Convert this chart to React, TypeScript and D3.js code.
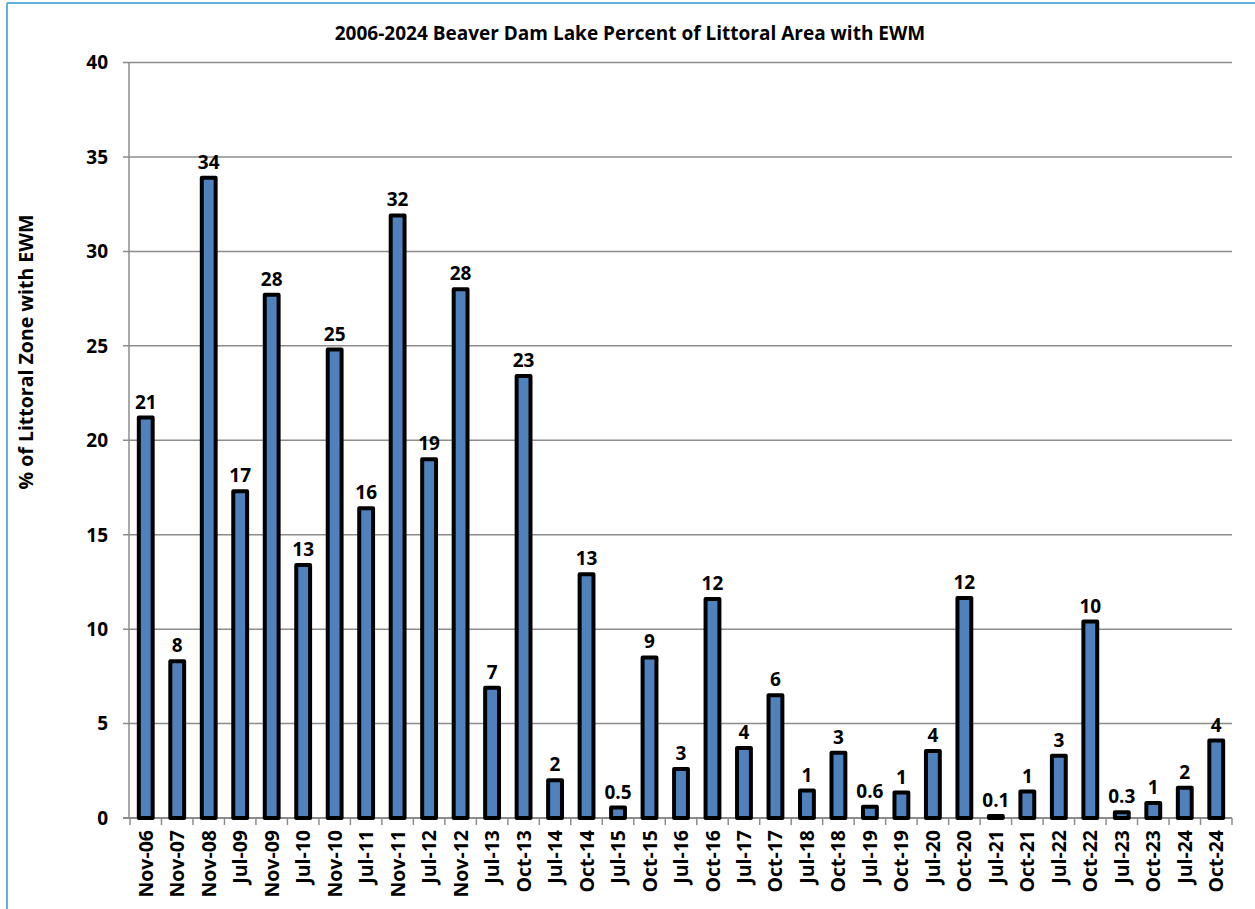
import React from "react";
import * as d3 from "d3";

const categories = ["Nov-06","Nov-07","Nov-08","Jul-09","Nov-09","Jul-10","Nov-10","Jul-11","Nov-11","Jul-12","Nov-12","Jul-13","Oct-13","Jul-14","Oct-14","Jul-15","Oct-15","Jul-16","Oct-16","Jul-17","Oct-17","Jul-18","Oct-18","Jul-19","Oct-19","Jul-20","Oct-20","Jul-21","Oct-21","Jul-22","Oct-22","Jul-23","Oct-23","Jul-24","Oct-24"];
const values = [21.2,8.3,33.9,17.3,27.7,13.4,24.8,16.4,31.9,19.0,28.0,6.9,23.4,2.0,12.9,0.55,8.5,2.6,11.6,3.7,6.5,1.45,3.45,0.6,1.35,3.55,11.65,0.1,1.4,3.3,10.4,0.3,0.8,1.6,4.1];
const labels = ["21","8","34","17","28","13","25","16","32","19","28","7","23","2","13","0.5","9","3","12","4","6","1","3","0.6","1","4","12","0.1","1","3","10","0.3","1","2","4"];
const yTicks = [0,5,10,15,20,25,30,35,40];
const title = "2006-2024 Beaver Dam Lake Percent of Littoral Area with EWM";
const yTitle = "% of Littoral Zone with EWM";

const W = 1255, H = 909;
const left = 130, right = 1232, top = 62.5, bottom = 818;
const FONT = "'Open Sans', 'Noto Sans', sans-serif";

export default function App() {
  const x = d3.scaleBand<string>().domain(categories).range([left, right]).padding(0);
  const y = d3.scaleLinear().domain([0, 40]).range([bottom, top]);
  const bw = x.step() * 0.44;
  return (
    <svg width={W} height={H} style={{ position: "absolute", left: 0, top: 0, background: "#fff" }} fontFamily={FONT}>
      <rect x={0} y={0} width={W} height={H} fill="#fff" />
      <line x1={7} y1={3} x2={W} y2={3} stroke="#62b0e0" strokeWidth={2} />
      <line x1={7} y1={3} x2={7} y2={H} stroke="#62b0e0" strokeWidth={2} />
      <text x={630} y={40} textAnchor="middle" fontSize={19} fontWeight="bold" fill="#000">{title}</text>
      {yTicks.map(t => (
        <g key={t}>
          <line x1={left - 7} x2={right} y1={y(t)} y2={y(t)} stroke="#8c8c8c" strokeWidth={t === 0 ? 2 : 1.5} />
          <text x={108} y={y(t)} dy="0.36em" textAnchor="end" fontSize={19} fontWeight="bold" fill="#000">{t}</text>
        </g>
      ))}
      <line x1={left - 1} x2={left - 1} y1={top} y2={bottom} stroke="#8c8c8c" strokeWidth={1.5} />
      {categories.map((c) => (
        <line key={"tk" + c} x1={x(c) as number} x2={x(c) as number} y1={bottom} y2={bottom + 7} stroke="#8c8c8c" strokeWidth={1.5} />
      ))}
      <line x1={right} x2={right} y1={bottom} y2={bottom + 7} stroke="#8c8c8c" strokeWidth={1.5} />
      {categories.map((c, i) => {
        const cx = (x(c) as number) + x.bandwidth() / 2;
        const yv = y(values[i]);
        return (
          <g key={c}>
            <rect x={cx - bw / 2} y={yv} width={bw} height={bottom - yv} fill="#4f81bd" stroke="#000" strokeWidth={4} strokeLinejoin="round" />
            <text x={cx} y={yv - 9} textAnchor="middle" fontSize={19} fontWeight="bold" fill="#000">{labels[i]}</text>
            <text transform={`translate(${cx},${bottom + 12}) rotate(-90)`} dy="0.36em" textAnchor="end" fontSize={19.5} fontWeight="bold" fill="#000">{c}</text>
          </g>
        );
      })}
      <text transform={`translate(33,${352}) rotate(-90)`} textAnchor="middle" fontSize={19.5} fontWeight="bold" fill="#000">{yTitle}</text>
    </svg>
  );
}
